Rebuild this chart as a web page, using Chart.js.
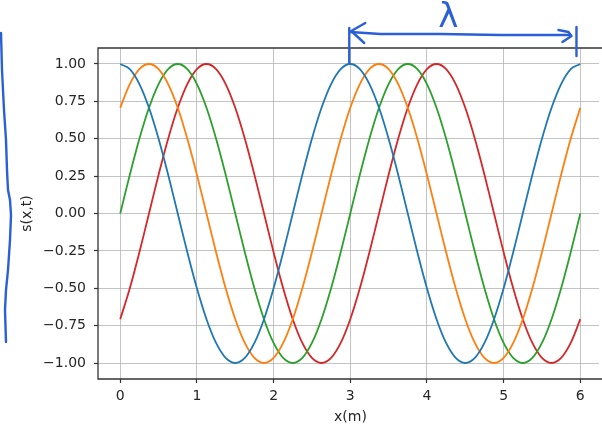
<!DOCTYPE html>
<html><head><meta charset="utf-8">
<script src="https://cdn.jsdelivr.net/npm/chart.js@4.4.0/dist/chart.umd.min.js"></script>
<style>html,body{margin:0;padding:0;background:#fff;overflow:hidden}#wrap{width:602px;height:430px;position:relative;overflow:hidden}</style>
</head><body><div id="wrap"><canvas id="c" width="606" height="430"></canvas></div>
<script>
// positions along x (m)
const xValues = [0,0.125,0.25,0.375,0.5,0.625,0.75,0.875,1,1.125,1.25,1.375,1.5,1.625,1.75,1.875,2,2.125,2.25,2.375,2.5,2.625,2.75,2.875,3,3.125,3.25,3.375,3.5,3.625,3.75,3.875,4,4.125,4.25,4.375,4.5,4.625,4.75,4.875,5,5.125,5.25,5.375,5.5,5.625,5.75,5.875,6];
const blueWave = [1,0.966,0.866,0.707,0.5,0.259,0,-0.259,-0.5,-0.707,-0.866,-0.966,-1,-0.966,-0.866,-0.707,-0.5,-0.259,0,0.259,0.5,0.707,0.866,0.966,1,0.966,0.866,0.707,0.5,0.259,0,-0.259,-0.5,-0.707,-0.866,-0.966,-1,-0.966,-0.866,-0.707,-0.5,-0.259,0,0.259,0.5,0.707,0.866,0.966,1];
const orangeWave = [0.707,0.866,0.966,1,0.966,0.866,0.707,0.5,0.259,0,-0.259,-0.5,-0.707,-0.866,-0.966,-1,-0.966,-0.866,-0.707,-0.5,-0.259,0,0.259,0.5,0.707,0.866,0.966,1,0.966,0.866,0.707,0.5,0.259,0,-0.259,-0.5,-0.707,-0.866,-0.966,-1,-0.966,-0.866,-0.707,-0.5,-0.259,0,0.259,0.5,0.707];
const greenWave = [0,0.259,0.5,0.707,0.866,0.966,1,0.966,0.866,0.707,0.5,0.259,0,-0.259,-0.5,-0.707,-0.866,-0.966,-1,-0.966,-0.866,-0.707,-0.5,-0.259,0,0.259,0.5,0.707,0.866,0.966,1,0.966,0.866,0.707,0.5,0.259,0,-0.259,-0.5,-0.707,-0.866,-0.966,-1,-0.966,-0.866,-0.707,-0.5,-0.259,0];
const redWave = [-0.707,-0.5,-0.259,0,0.259,0.5,0.707,0.866,0.966,1,0.966,0.866,0.707,0.5,0.259,0,-0.259,-0.5,-0.707,-0.866,-0.966,-1,-0.966,-0.866,-0.707,-0.5,-0.259,0,0.259,0.5,0.707,0.866,0.966,1,0.966,0.866,0.707,0.5,0.259,0,-0.259,-0.5,-0.707,-0.866,-0.966,-1,-0.966,-0.866,-0.707];
const xTicks = [0,1,2,3,4,5,6];
const yTicks = [-1,-0.75,-0.5,-0.25,0,0.25,0.5,0.75,1];
const xTitle = 'x(m)';
const yTitle = 's(x,t)';
const lambdaLabel = 'λ';
const wavelengthStart = 3;
const wavelengthEnd = 5.95;

const series = [
  {data: blueWave, color: '#1f77b4'},
  {data: orangeWave, color: '#ff7f0e'},
  {data: greenWave, color: '#2ca02c'},
  {data: redWave, color: '#d62728'}
];

const FONT = "'DejaVu Sans', sans-serif";
const INK = '#2b5fd6';

const framePlugin = {
  id: 'frame',
  afterDatasetsDraw(chart) {
    const {ctx, chartArea: a} = chart;
    ctx.save();
    // keep the region right of the last grid line clean
    ctx.fillStyle = '#fff';
    ctx.fillRect(a.right - 4, a.top + 1, chart.width - a.right + 4, a.bottom - a.top - 2);
    ctx.strokeStyle = '#333';
    ctx.lineWidth = 1.3;
    ctx.beginPath();
    ctx.moveTo(chart.width, a.top);
    ctx.lineTo(a.left, a.top);
    ctx.lineTo(a.left, a.bottom);
    ctx.lineTo(chart.width, a.bottom);
    ctx.stroke();
    ctx.restore();
  }
};

function stroke(ctx, pts) {
  ctx.beginPath();
  ctx.moveTo(pts[0][0], pts[0][1]);
  for (let i = 1; i < pts.length; i++) ctx.lineTo(pts[i][0], pts[i][1]);
  ctx.stroke();
}

const inkPlugin = {
  id: 'ink',
  afterDraw(chart) {
    const {ctx, chartArea: a} = chart;
    const xs = chart.scales.x;
    const x0 = xs.getPixelForValue(wavelengthStart);
    const x1 = xs.getPixelForValue(wavelengthEnd);
    const t = a.top;
    ctx.save();
    ctx.strokeStyle = INK;
    ctx.fillStyle = INK;
    ctx.lineWidth = 2.4;
    ctx.lineCap = 'round';
    ctx.lineJoin = 'round';
    // left bracket stroke
    stroke(ctx, [[1,33],[2,70],[4,110],[6,140],[7,170],[8,190],[10,200],[11,215],[10,240],[8,270],[6,290],[5,310],[6,342]]);
    // left tick
    stroke(ctx, [[x0-1, t-20],[x0-1, t+15]]);
    // horizontal arrow
    stroke(ctx, [[x0, t-16],[x0+30, t-14],[x0+90, t-14],[x0+150, t-13],[x1-6, t-13]]);
    // left head
    stroke(ctx, [[x0+15, t-25],[x0+1, t-17],[x0+14, t-5]]);
    // right head
    stroke(ctx, [[x1-18, t-18],[x1-8, t-16],[x1-5, t-12],[x1-14, t-6]]);
    // right tick
    stroke(ctx, [[x1, t-21],[x1, t+8]]);
    // lambda
    ctx.font = "34px " + FONT;
    ctx.textAlign = 'center';
    ctx.textBaseline = 'middle';
    ctx.fillText(lambdaLabel, x0 + 98, t - 30);
    ctx.restore();
  }
};

new Chart(document.getElementById('c'), {
  type: 'line',
  data: {
    datasets: series.map(s => ({
      data: xValues.map((x, i) => ({x: x, y: s.data[i]})),
      borderColor: s.color,
      backgroundColor: s.color,
      borderWidth: 1.8,
      pointRadius: 0,
      tension: 0.35,
      fill: false
    }))
  },
  options: {
    responsive: false,
    animation: false,
    events: [],
    layout: {padding: {left: 0, top: 48, right: 3, bottom: 0}},
    plugins: {legend: {display: false}, tooltip: {enabled: false}},
    scales: {
      x: {
        type: 'linear',
        min: -0.29,
        max: 6.296,
        afterFit(s) { s.height = 51; },
        afterBuildTicks(s) { s.ticks = xTicks.map(v => ({value: v})); },
        grid: {color: 'rgba(176,176,176,0.75)', lineWidth: 1, tickLength: 4, tickColor: '#333', tickWidth: 1.2},
        border: {display: false},
        ticks: {color: '#262626', font: {family: FONT, size: 14}, padding: 5, maxRotation: 0, callback: v => String(v)},
        title: {display: true, text: xTitle, color: '#262626', font: {family: FONT, size: 14}, padding: {top: 0, bottom: 4}}
      },
      y: {
        min: -1.107,
        max: 1.107,
        afterFit(s) { s.width = 98; },
        afterBuildTicks(s) { s.ticks = yTicks.map(v => ({value: v})); },
        grid: {color: 'rgba(176,176,176,0.75)', lineWidth: 1, tickLength: 4, tickColor: '#333', tickWidth: 1.2},
        border: {display: false},
        ticks: {color: '#262626', font: {family: FONT, size: 14}, padding: 8, callback: v => Number(v).toFixed(2).replace('-', '\u2212')},
        title: {display: true, text: yTitle, color: '#262626', font: {family: FONT, size: 14}, padding: {top: 19, bottom: 0}}
      }
    }
  },
  plugins: [framePlugin, inkPlugin]
});
</script>
</body></html>
